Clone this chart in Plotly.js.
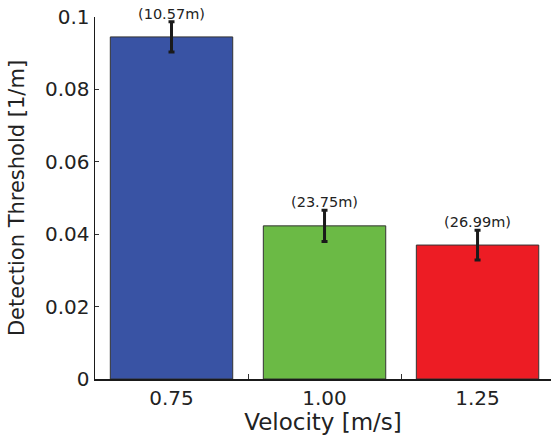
<!DOCTYPE html>
<html><head><meta charset="utf-8">
<script src="https://cdn.plot.ly/plotly-3.0.1.min.js"></script>
<style>body{margin:0;background:#fff}#chart{width:551px;height:440px}</style>
</head><body><div id="chart"></div>
<script>
const categories = ["0.75", "1.00", "1.25"];
const thresholds = [0.0945, 0.0423, 0.0370];
const errors = [0.0042, 0.0043, 0.0041];
const distanceLabels = ["(10.57m)", "(23.75m)", "(26.99m)"];
const barColors = ["#3953A4", "#6BBA45", "#ED1C24"];
const yTicks = [0, 0.02, 0.04, 0.06, 0.08, 0.1];
const yTickText = ["0", "0.02", "0.04", "0.06", "0.08", "0.1"];

const xpos = categories.map((c, i) => i);
const font = "DejaVu Sans, Verdana, sans-serif";

const trace = {
  type: "bar",
  x: xpos,
  y: thresholds,
  width: 0.8,
  marker: {color: barColors, line: {color: "#333333", width: 1}},
  error_y: {type: "data", array: errors, visible: true, color: "#1a1a1a", thickness: 3, width: 3},
  hoverinfo: "skip"
};

const annotations = categories.map((c, i) => ({
  x: i, y: thresholds[i] + errors[i], xref: "x", yref: "y",
  text: distanceLabels[i], showarrow: false, yanchor: "bottom", yshift: -2,
  font: {family: font, size: 14.5, color: "#222"}
}));

const layout = {
  width: 551, height: 440,
  margin: {l: 95, r: 0, t: 17, b: 61},
  paper_bgcolor: "#fff", plot_bgcolor: "#fff",
  showlegend: false,
  font: {family: font, color: "#222"},
  xaxis: {
    range: [-0.5, 2.48], tickvals: xpos, ticktext: categories,
    ticks: "", showgrid: false, zeroline: false,
    showline: true, linecolor: "#1a1a1a", linewidth: 1.5,
    tickfont: {family: font, size: 20, color: "#222"},
    minor: {tickvals: [0.5, 1.5], ticks: "inside", ticklen: 5, tickcolor: "#333", showgrid: false},
    title: {text: "Velocity [m/s]", font: {family: font, size: 23, color: "#222"}, standoff: 5}
  },
  yaxis: {
    range: [0, 0.1], tickvals: yTicks, ticktext: yTickText,
    ticks: "inside", ticklen: 4, tickcolor: "#333",
    showgrid: false, zeroline: false,
    showline: true, linecolor: "#1a1a1a", linewidth: 1.5,
    tickfont: {family: font, size: 20, color: "#222"},
    title: {text: "Detection Threshold [1/m]", font: {family: font, size: 21, color: "#222"}, standoff: 14}
  },
  annotations: annotations
};

Plotly.newPlot("chart", [trace], layout, {displayModeBar: false, staticPlot: true});
</script></body></html>
